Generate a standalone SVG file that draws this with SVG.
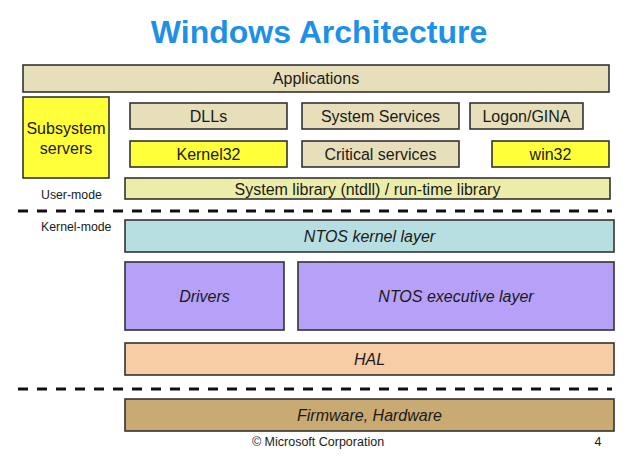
<svg xmlns="http://www.w3.org/2000/svg" width="630" height="462" viewBox="0 0 630 462">
<style>
.box{stroke:#333;stroke-width:1.6}
.t{font-family:"Liberation Sans",Arial,sans-serif;font-size:16px;fill:#1a1a1a;text-anchor:middle}
.i{font-style:italic}
.s{font-family:"Liberation Sans",Arial,sans-serif;font-size:12.3px;fill:#1a1a1a}
.beige{fill:#E6DFBA}
.yellow{fill:#FFFF3A}
.lib{fill:#EDEDAA}
.kern{fill:#B7DFE1}
.purple{fill:#B7A0F7}
.hal{fill:#F7CDA5}
.fw{fill:#C9AA72}
.dash{stroke:#111;stroke-width:3;stroke-dasharray:10 9;fill:none}
</style>
<rect width="630" height="462" fill="#fff"/>
<text x="319" y="43" font-family="Liberation Sans,Arial,sans-serif" font-size="32" font-weight="bold" fill="#1E90E6" text-anchor="middle">Windows Architecture</text>
<g id="applications"><rect class="box beige" x="23" y="65" width="586" height="27"/><text class="t" x="316" y="84">Applications</text></g>
<g id="subsystem"><rect class="box yellow" x="23" y="97" width="86" height="81"/><text class="t" x="66" y="134">Subsystem</text><text class="t" x="66" y="154">servers</text></g>
<g id="dlls"><rect class="box beige" x="130" y="103" width="157" height="26"/><text class="t" x="208.5" y="122">DLLs</text></g>
<g id="sysservices"><rect class="box beige" x="302" y="103" width="157" height="26"/><text class="t" x="380.5" y="122">System Services</text></g>
<g id="logon"><rect class="box beige" x="470" y="103" width="113" height="26"/><text class="t" x="526.5" y="122">Logon/GINA</text></g>
<g id="kernel32"><rect class="box yellow" x="130" y="141" width="157" height="26"/><text class="t" x="208.5" y="160">Kernel32</text></g>
<g id="critical"><rect class="box beige" x="302" y="141" width="157" height="26"/><text class="t" x="380.5" y="160">Critical services</text></g>
<g id="win32"><rect class="box yellow" x="492" y="141" width="117" height="26"/><text class="t" x="550.5" y="160">win32</text></g>
<g id="syslib"><rect class="box lib" x="125" y="178" width="485" height="21"/><text class="t" x="367.5" y="194.5">System library (ntdll) / run-time library</text></g>
<text class="s" x="41" y="199">User-mode</text>
<text class="s" x="41" y="231">Kernel-mode</text>
<g id="ntoskernel"><rect class="box kern" x="125" y="220" width="489" height="32"/><text class="t i" x="369.5" y="242">NTOS kernel layer</text></g>
<g id="drivers"><rect class="box purple" x="125" y="262" width="159" height="68"/><text class="t i" x="204.5" y="302">Drivers</text></g>
<g id="ntosexec"><rect class="box purple" x="298" y="262" width="316" height="68"/><text class="t i" x="456" y="302">NTOS executive layer</text></g>
<g id="hal"><rect class="box hal" x="125" y="343" width="489" height="32"/><text class="t i" x="369.5" y="365">HAL</text></g>
<g id="firmware"><rect class="box fw" x="125" y="399" width="489" height="32"/><text class="t i" x="369.5" y="421">Firmware, Hardware</text></g>
<g id="connectors">
<line class="dash" x1="18" y1="211" x2="612" y2="211"/>
<line class="dash" x1="18" y1="389" x2="612" y2="389"/>
</g>
<text x="318" y="446" font-family="Liberation Sans,Arial,sans-serif" font-size="12.5" fill="#1a1a1a" text-anchor="middle">© Microsoft Corporation</text>
<text x="598" y="446" font-family="Liberation Sans,Arial,sans-serif" font-size="12.5" fill="#1a1a1a" text-anchor="middle">4</text>
</svg>
